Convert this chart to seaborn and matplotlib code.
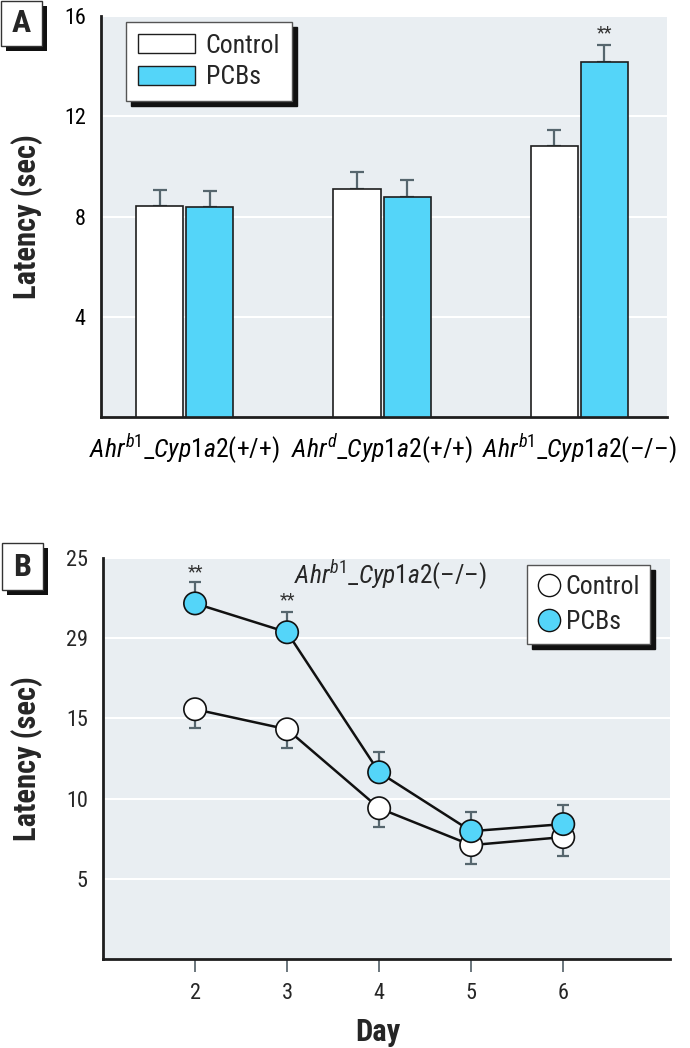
import numpy as np
import pandas as pd
import seaborn as sns
import matplotlib
matplotlib.use("Agg")
import matplotlib.pyplot as plt
from matplotlib import font_manager
from matplotlib.patches import Rectangle, Patch
from matplotlib.lines import Line2D

# ---------------- data ----------------
genotypes = ["b1_wt", "d_wt", "b1_ko"]
genotype_labels = [
    r"$\mathit{Ahr}^{\mathit{b1}}\_\mathit{Cyp1a2}$(+/+)",
    r"$\mathit{Ahr}^{\mathit{d}}\_\mathit{Cyp1a2}$(+/+)",
    r"$\mathit{Ahr}^{\mathit{b1}}\_\mathit{Cyp1a2}$(–/–)",
]
groups = ["Control", "PCBs"]
bar_control = [8.42, 9.10, 10.81]
bar_pcbs = [8.37, 8.79, 14.15]
bar_control_se = [0.64, 0.68, 0.64]
bar_pcbs_se = [0.67, 0.66, 0.69]
a_yticks = [4, 8, 12, 16]

days = [2, 3, 4, 5, 6]
line_control = [15.57, 14.32, 9.40, 7.10, 7.60]
line_control_se = [1.18, 1.18, 1.18, 1.18, 1.18]
line_pcbs = [22.17, 20.37, 11.64, 7.97, 8.41]
line_pcbs_se = [1.31, 1.25, 1.25, 1.18, 1.18]
b_yticks = [5, 10, 15, 20, 25]
b_yticklabels = ["5", "10", "15", "29", "25"]
b_title = r"$\mathit{Ahr}^{\mathit{b1}}\_\mathit{Cyp1a2}\mathit{(–/–)}$"

# ---------------- style ----------------
CYAN = "#54D5F9"
BG = "#E9EEF2"
ERR = "#56666E"
SPINE = "#1E1E1E"

sns.set_theme(style="white")

# pick a condensed / narrow face if one is installed
entries = font_manager.fontManager.ttflist
main_font, stretch = "DejaVu Sans", "normal"
found = False
for cand in ["Liberation Sans Narrow", "Roboto Condensed", "Open Sans Condensed",
             "Noto Sans", "DejaVu Sans", "Roboto", "Inter", "Lato"]:
    for e in entries:
        if e.name == cand:
            narrowish = ("Narrow" in e.name or "Condensed" in e.name or
                         "condensed" in str(e.stretch) or "Condensed" in e.fname)
            if narrowish:
                main_font = cand
                stretch = "normal" if ("Narrow" in cand or "Condensed" in cand) else "condensed"
                found = True
                break
    if found:
        break
narrow = found
plt.rcParams["font.family"] = [main_font, "DejaVu Sans"]
plt.rcParams["font.stretch"] = stretch
plt.rcParams["mathtext.fontset"] = "custom"
st = "" if stretch == "normal" else ":stretch=condensed"
plt.rcParams["mathtext.rm"] = main_font + st
plt.rcParams["mathtext.it"] = main_font + ":italic" + st
plt.rcParams["mathtext.bf"] = main_font + ":bold" + st
k = 1.0 if narrow else 0.85

fig = plt.figure(figsize=(6.9, 10.48), dpi=100, facecolor="white")
axA = fig.add_axes([101 / 690, 1 - 417.4 / 1048, 566 / 690, 401.4 / 1048])
axB = fig.add_axes([103 / 690, 1 - 959 / 1048, 567 / 690, 401 / 1048])

# ---------------- panel A ----------------
dfA = pd.DataFrame({
    "genotype": genotypes * 2,
    "group": [groups[0]] * 3 + [groups[1]] * 3,
    "latency": bar_control + bar_pcbs,
    "se": bar_control_se + bar_pcbs_se,
})
axA.set_facecolor(BG)
sns.barplot(data=dfA, x="genotype", y="latency", hue="group", order=genotypes,
            hue_order=groups, palette={"Control": "white", "PCBs": CYAN},
            saturation=1, edgecolor=SPINE, linewidth=1.2, width=0.507, gap=0.06,
            errorbar=None, legend=False, ax=axA, zorder=3)
bars = [p for p in axA.patches if isinstance(p, Rectangle) and p.get_height() > 0]
for p in bars:
    xc = p.get_x() + p.get_width() / 2
    h = p.get_height()
    row = dfA[np.isclose(dfA["latency"], h)].iloc[0]
    axA.errorbar(xc, h, yerr=[[0], [row["se"]]], fmt="none", ecolor=ERR,
                 elinewidth=1.6, capsize=4.8, capthick=1.6, zorder=2)
    if row["genotype"] == "b1_ko" and row["group"] == "PCBs":
        axA.text(xc, 15.3, "**", ha="center", va="center", fontsize=13, color="#333333")

axA.set_xlim(-0.424, 2.444)
axA.set_ylim(0, 16)
axA.set_yticks(a_yticks)
axA.set_yticklabels([str(t) for t in a_yticks], fontsize=16 * k)
axA.set_xticks(range(len(genotypes)))
axA.set_xticklabels(genotype_labels, fontsize=18.5 * k)
axA.tick_params(axis="both", length=0, colors="black")
axA.tick_params(axis="y", pad=11)
axA.tick_params(axis="x", pad=11)
axA.yaxis.grid(True, color="white", linewidth=1.5, zorder=0)
axA.set_axisbelow(True)
axA.set_xlabel("")
axA.set_ylabel("Latency (sec)", fontsize=22 * k, fontweight="bold")
axA.yaxis.set_label_coords(-0.1025, 0.5)
for s in ["top", "right"]:
    axA.spines[s].set_visible(False)
for s in ["left", "bottom"]:
    axA.spines[s].set_color(SPINE)
    axA.spines[s].set_linewidth(2)

handlesA = [Patch(facecolor="white", edgecolor=SPINE, linewidth=1.0, label="Control"),
            Patch(facecolor=CYAN, edgecolor=SPINE, linewidth=1.0, label="PCBs")]
legA = axA.legend(handles=handlesA, loc="upper left",
                  bbox_to_anchor=(126 / 690, 1 - 22 / 1048),
                  bbox_transform=fig.transFigure, fontsize=18.5 * k, frameon=True,
                  fancybox=False, edgecolor="#555555", framealpha=1,
                  handlelength=2.25, handleheight=0.75, labelspacing=0.3,
                  borderpad=0.45, handletextpad=0.4, borderaxespad=0,
                  shadow={"ox": 3.6, "oy": -3.6, "color": "#111111", "alpha": 1})
legA.get_frame().set_linewidth(1.0)

# ---------------- panel B ----------------
dfB = pd.DataFrame({
    "day": days * 2,
    "group": [groups[0]] * 5 + [groups[1]] * 5,
    "latency": line_control + line_pcbs,
})
axB.set_facecolor(BG)
axB.errorbar(days, line_control, yerr=[line_control_se, [0] * 5], fmt="none",
             ecolor=ERR, elinewidth=1.6, capsize=4.5, capthick=1.6, zorder=2)
axB.errorbar(days, line_pcbs, yerr=[[0] * 5, line_pcbs_se], fmt="none",
             ecolor=ERR, elinewidth=1.6, capsize=4.5, capthick=1.6, zorder=2)
sns.lineplot(data=dfB, x="day", y="latency", units="group", estimator=None,
             color="#111111", linewidth=1.8, ax=axB, legend=False, zorder=3)
sns.scatterplot(data=dfB, x="day", y="latency", hue="group", hue_order=groups,
                palette={"Control": "white", "PCBs": CYAN}, s=260,
                edgecolor="#111111", linewidth=1.2, ax=axB, legend=False, zorder=4)
axB.text(2, 24.1, "**", ha="center", va="center", fontsize=13, color="#333333")
axB.text(3, 22.36, "**", ha="center", va="center", fontsize=13, color="#333333")
axB.text(4.12, 23.9, b_title, ha="center", va="center", fontsize=18.4 * k)

axB.set_xlim(1, 7.16)
axB.set_ylim(0, 25)
axB.set_xticks(days)
axB.set_xticklabels([str(d) for d in days], fontsize=16 * k)
axB.set_yticks(b_yticks)
axB.set_yticklabels(b_yticklabels, fontsize=16 * k)
axB.tick_params(axis="y", length=0, pad=11)
axB.tick_params(axis="x", length=9.4, width=1.4, color="#6A767C", pad=8, direction="out")
axB.xaxis.set_ticks_position("bottom")
axB.yaxis.grid(True, color="white", linewidth=1.5, zorder=0)
axB.set_axisbelow(True)
axB.set_ylabel("Latency (sec)", fontsize=22 * k, fontweight="bold")
axB.yaxis.set_label_coords(-0.106, 0.5)
axB.set_xlabel("Day", fontsize=22 * k, fontweight="bold")
axB.xaxis.set_label_coords(0.485, -0.145)
for s in ["top", "right"]:
    axB.spines[s].set_visible(False)
for s in ["left", "bottom"]:
    axB.spines[s].set_color(SPINE)
    axB.spines[s].set_linewidth(2)

handlesB = [Line2D([], [], marker="o", linestyle="none", markersize=16,
                   markerfacecolor="white", markeredgecolor="#111111", markeredgewidth=1.0, label="Control"),
            Line2D([], [], marker="o", linestyle="none", markersize=16,
                   markerfacecolor=CYAN, markeredgecolor="#111111", markeredgewidth=1.0, label="PCBs")]
legB = axB.legend(handles=handlesB, loc="upper left",
                  bbox_to_anchor=(527 / 690, 1 - 565 / 1048),
                  bbox_transform=fig.transFigure, fontsize=18.5 * k, frameon=True,
                  fancybox=False, edgecolor="#555555", framealpha=1,
                  handlelength=0.9, labelspacing=0.4, borderpad=0.4,
                  handletextpad=0.2, borderaxespad=0,
                  shadow={"ox": 3.6, "oy": -3.6, "color": "#111111", "alpha": 1})
legB.get_frame().set_linewidth(1.0)

# ---------------- panel letters ----------------
def panel_letter(letter, x0, y0, w, h):
    fx, fy = 1 / 690, 1 / 1048
    shadow = Rectangle(((x0 + 5) * fx, 1 - (y0 + h + 5) * fy), w * fx, h * fy,
                       transform=fig.transFigure, facecolor="#111111", edgecolor="none", zorder=1)
    box = Rectangle((x0 * fx, 1 - (y0 + h) * fy), w * fx, h * fy,
                    transform=fig.transFigure, facecolor="white", edgecolor="#333333",
                    linewidth=1.0, zorder=2)
    fig.patches.extend([shadow, box])
    fig.text((x0 + w / 2) * fx, 1 - (y0 + h / 2) * fy, letter, ha="center", va="center",
             fontsize=23, fontweight="bold", zorder=3)

panel_letter("A", 1, 1, 41, 45)
panel_letter("B", 2, 543, 41, 47)

fig.savefig("out.png", dpi=100, facecolor="white")
